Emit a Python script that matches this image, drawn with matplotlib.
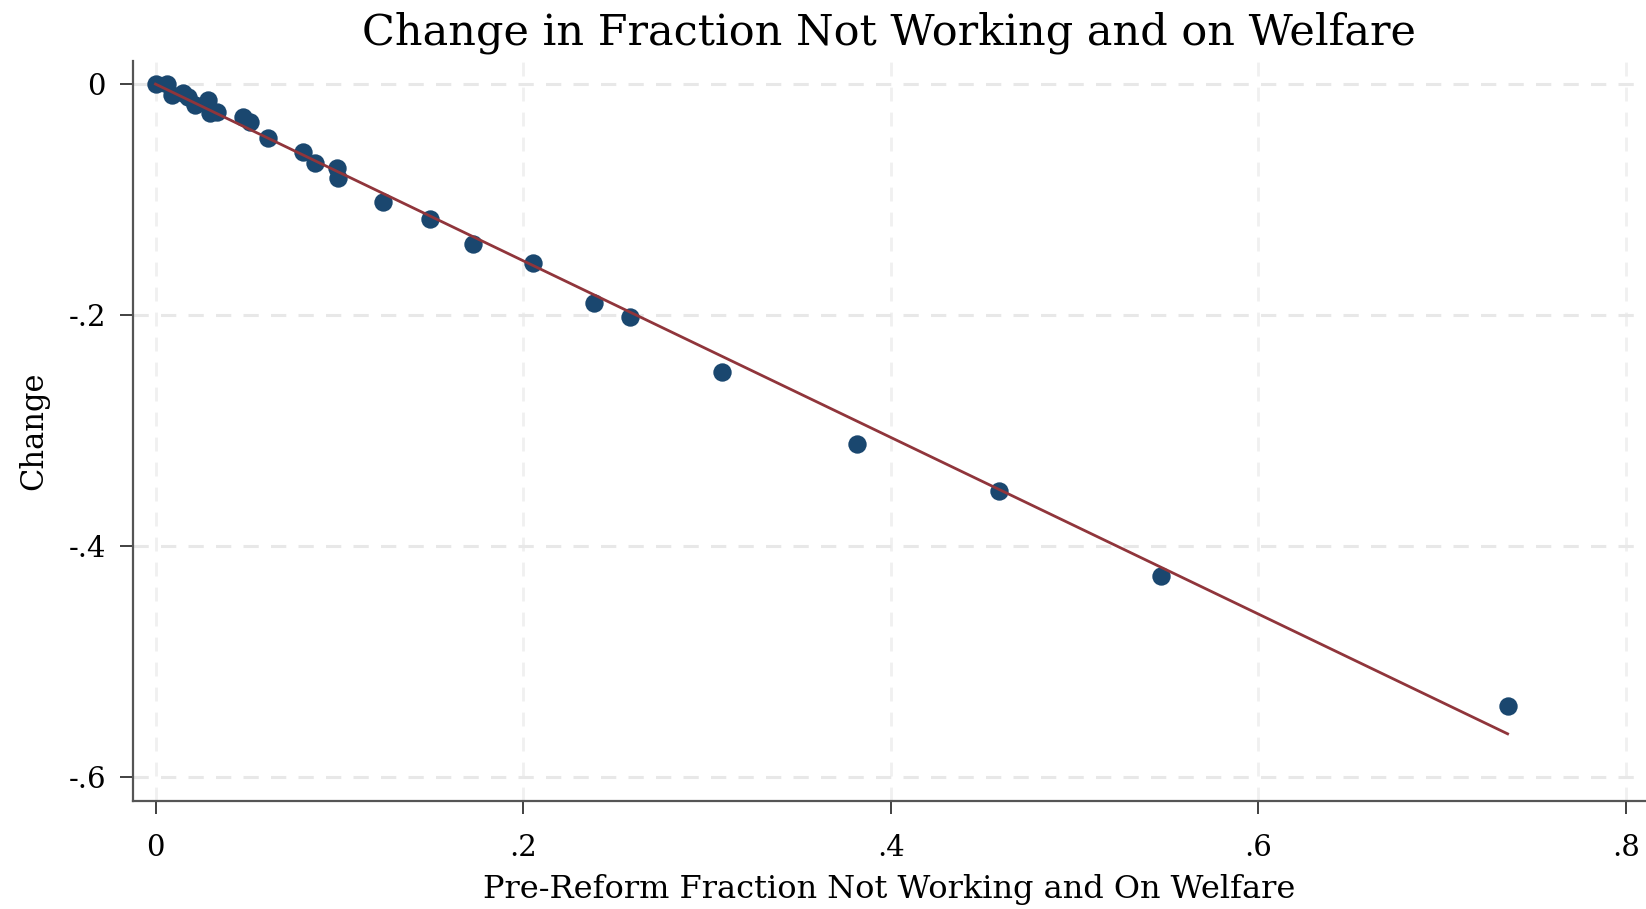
import matplotlib
matplotlib.use("Agg")
import matplotlib.pyplot as plt
import numpy as np

# Pre-reform fraction not working and on welfare, and its change
pre_reform = [0.000, 0.006, 0.009, 0.015, 0.0177, 0.0215, 0.0288, 0.0297, 0.0333,
              0.0477, 0.0514, 0.0612, 0.0802, 0.0867, 0.0985, 0.0993, 0.1238,
              0.1496, 0.1725, 0.2056, 0.2387, 0.2581, 0.3084, 0.3815, 0.4592,
              0.5472, 0.7357]
change = [0.000, 0.000, -0.0095, -0.008, -0.011, -0.018, -0.014, -0.025, -0.024,
          -0.0283, -0.0326, -0.0468, -0.0586, -0.0684, -0.0727, -0.0814, -0.1019,
          -0.1172, -0.1381, -0.1554, -0.190, -0.2017, -0.249, -0.3117, -0.3526,
          -0.4262, -0.539]

# Linear fit
fit_intercept = 0.0
fit_slope = -0.765

x_ticks = [0, 0.2, 0.4, 0.6, 0.8]
x_tick_labels = ["0", ".2", ".4", ".6", ".8"]
y_ticks = [0, -0.2, -0.4, -0.6]
y_tick_labels = ["0", "-.2", "-.4", "-.6"]

navy = "#1a476f"
maroon = "#90353b"

plt.rcParams["font.family"] = ["DejaVu Serif"]

fig = plt.figure(figsize=(16.46, 9.09), dpi=100)
ax = fig.add_axes([133 / 1646, 1 - 801 / 909, 1 - 133 / 1646, (801 - 61) / 909])

ax.set_xlim(-0.01225, 0.811)
ax.set_ylim(-0.621, 0.02)

for xt in x_ticks:
    ax.axvline(xt, color="#f0f0f0", lw=2.0, ls=(0, (5, 4)), zorder=0)
for yt in y_ticks:
    ax.axhline(yt, color="#e8e8e8", lw=2.2, ls=(0, (5, 4)), zorder=0)

ax.scatter(pre_reform, change, s=175, color=navy, zorder=3, linewidths=0)

xs = np.array([min(pre_reform), max(pre_reform)])
ax.plot(xs, fit_intercept + fit_slope * xs, color=maroon, lw=2.0, zorder=4)

ax.set_xticks(x_ticks)
ax.set_xticklabels(x_tick_labels)
ax.set_yticks(y_ticks)
ax.set_yticklabels(y_tick_labels)

for side in ("top", "right"):
    ax.spines[side].set_visible(False)
for side in ("left", "bottom"):
    ax.spines[side].set_color("#555555")
    ax.spines[side].set_linewidth(1.6)

ax.tick_params(axis="both", direction="out", length=9.5, width=1.3,
               color="#333333", labelsize=21, pad=10)
ax.tick_params(axis="x", pad=14)

ax.set_title("Change in Fraction Not Working and on Welfare", fontsize=31, pad=12)
ax.set_xlabel("Pre-Reform Fraction Not Working and On Welfare", fontsize=23, labelpad=9)
ax.set_ylabel("Change", fontsize=22, labelpad=14)

fig.savefig("out.png", dpi=100, facecolor="white")
